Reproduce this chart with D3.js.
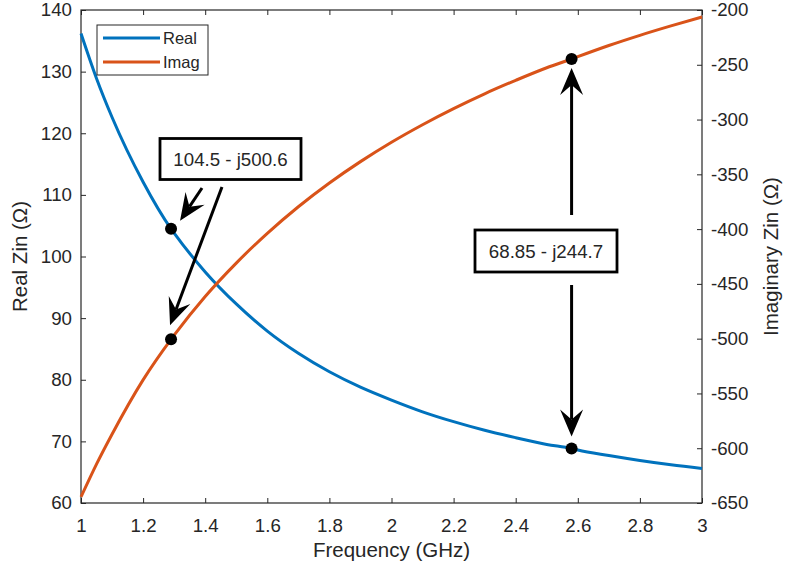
<!DOCTYPE html>
<html>
<head>
<meta charset="utf-8">
<script src="https://cdn.jsdelivr.net/npm/d3@7"></script>
<style>
  html, body { margin: 0; padding: 0; background: #fff; }
  svg { display: block; font-family: "Liberation Sans", Arial, Helvetica, sans-serif; }
</style>
</head>
<body>
<svg id="chart" width="785" height="572"></svg>
<script>
// Input impedance of the antenna versus frequency
const freqGHz = [1.0, 1.05, 1.1, 1.2, 1.29, 1.3, 1.4, 1.5, 1.6, 1.7, 1.8, 1.9, 2.0,
                 2.1, 2.2, 2.3, 2.4, 2.5, 2.58, 2.6, 2.7, 2.8, 2.9, 3.0];
const realZin = [136.2, 128.9, 122.6, 112.1, 104.5, 103.8, 97.5, 92.3, 87.9, 84.3, 81.3, 78.8, 76.7,
                 74.8, 73.2, 71.8, 70.6, 69.5, 68.85, 68.6, 67.7, 66.9, 66.2, 65.6];
const imagZin = [-644.5, -614.5, -587.2, -537.6, -500.6, -496.8, -461.5, -431.0, -403.9, -379.6, -357.9, -338.4, -320.7,
                 -304.7, -290.0, -276.5, -264.2, -252.7, -244.7, -242.6, -232.4, -223.1, -214.5, -206.4];

const xTicks = [1, 1.2, 1.4, 1.6, 1.8, 2, 2.2, 2.4, 2.6, 2.8, 3];
const leftTicks = [60, 70, 80, 90, 100, 110, 120, 130, 140];
const rightTicks = [-650, -600, -550, -500, -450, -400, -350, -300, -250, -200];

// Marked points (frequency, real, imaginary)
const markFreq = [1.29, 2.58];
const markReal = [104.5, 68.85];
const markImag = [-500.6, -244.7];

const seriesNames = ["Real", "Imag"];
const seriesColors = ["#0072BD", "#D95319"];

const svg = d3.select("#chart");
const plotLeft = 81, plotRight = 702, plotTop = 10, plotBottom = 503;
const ink = "#262626";
const tickFont = 18.7, labelFont = 20.5;
const plain = d => String(d);   // hyphen-minus for negative labels

const x = d3.scaleLinear().domain([1, 3]).range([plotLeft, plotRight]);
const yL = d3.scaleLinear().domain([60, 140]).range([plotBottom, plotTop]);
const yR = d3.scaleLinear().domain([-650, -200]).range([plotBottom, plotTop]);

// Axes (ticks point into the plot)
function styleAxis(g) {
  g.select(".domain").remove();
  g.selectAll(".tick line").attr("stroke", ink).attr("stroke-width", 1);
  g.selectAll(".tick text").attr("fill", ink).style("font-size", tickFont + "px")
    .style("font-family", '"Liberation Sans", Arial, Helvetica, sans-serif');
}

svg.append("g").attr("transform", `translate(0,${plotBottom})`)
  .call(d3.axisBottom(x).tickValues(xTicks).tickFormat(plain).tickSizeInner(-5).tickSizeOuter(0).tickPadding(16))
  .call(styleAxis);
svg.append("g").attr("transform", `translate(0,${plotTop})`)
  .call(d3.axisTop(x).tickValues(xTicks).tickFormat("").tickSizeInner(-5).tickSizeOuter(0))
  .call(styleAxis);
svg.append("g").attr("transform", `translate(${plotLeft},0)`)
  .call(d3.axisLeft(yL).tickValues(leftTicks).tickFormat(plain).tickSizeInner(-5).tickSizeOuter(0).tickPadding(9))
  .call(styleAxis);
svg.append("g").attr("transform", `translate(${plotRight},0)`)
  .call(d3.axisRight(yR).tickValues(rightTicks).tickFormat(plain).tickSizeInner(-5).tickSizeOuter(0).tickPadding(9))
  .call(styleAxis);

// Plot box
svg.append("rect").attr("x", plotLeft).attr("y", plotTop)
  .attr("width", plotRight - plotLeft).attr("height", plotBottom - plotTop)
  .attr("fill", "none").attr("stroke", ink).attr("stroke-width", 1.2);

// Axis labels
svg.append("text").attr("x", (plotLeft + plotRight) / 2).attr("y", 557).attr("text-anchor", "middle")
  .attr("fill", ink).style("font-size", labelFont + "px").text("Frequency (GHz)");
svg.append("text").attr("transform", `translate(27,${(plotTop + plotBottom) / 2}) rotate(-90)`).attr("text-anchor", "middle")
  .attr("fill", ink).style("font-size", labelFont + "px").text("Real Zin (\u03A9)");
svg.append("text").attr("transform", `translate(778,${(plotTop + plotBottom) / 2}) rotate(-90)`).attr("text-anchor", "middle")
  .attr("fill", ink).style("font-size", labelFont + "px").text("Imaginary Zin (\u03A9)");

// Curves
const plot = svg.append("g");
const realLine = d3.line().x((d, i) => x(freqGHz[i])).y(d => yL(d)).curve(d3.curveMonotoneX);
const imagLine = d3.line().x((d, i) => x(freqGHz[i])).y(d => yR(d)).curve(d3.curveMonotoneX);
plot.append("path").attr("d", realLine(realZin)).attr("fill", "none")
  .attr("stroke", seriesColors[0]).attr("stroke-width", 3).attr("stroke-linejoin", "round");
plot.append("path").attr("d", imagLine(imagZin)).attr("fill", "none")
  .attr("stroke", seriesColors[1]).attr("stroke-width", 3).attr("stroke-linejoin", "round");

// Markers
markFreq.forEach((f, i) => {
  plot.append("circle").attr("cx", x(f)).attr("cy", yL(markReal[i])).attr("r", 6).attr("fill", "#000");
  plot.append("circle").attr("cx", x(f)).attr("cy", yR(markImag[i])).attr("r", 6).attr("fill", "#000");
});

// Arrow with a notched head
function arrow(x1, y1, x2, y2) {
  const dx = x2 - x1, dy = y2 - y1, len = Math.hypot(dx, dy);
  const ux = dx / len, uy = dy / len, px = -uy, py = ux;
  const L = 27, Wd = 11.5, notch = 17;
  const bx = x2 - ux * L, by = y2 - uy * L;
  const nx = x2 - ux * notch, ny = y2 - uy * notch;
  svg.append("line").attr("x1", x1).attr("y1", y1).attr("x2", nx).attr("y2", ny)
    .attr("stroke", "#000").attr("stroke-width", 3);
  svg.append("path")
    .attr("d", `M${x2},${y2} L${bx + px * Wd},${by + py * Wd} L${nx},${ny} L${bx - px * Wd},${by - py * Wd} Z`)
    .attr("fill", "#000");
}

function textBox(cx, cy, w, h, label) {
  svg.append("rect").attr("x", cx - w / 2).attr("y", cy - h / 2).attr("width", w).attr("height", h)
    .attr("fill", "#fff").attr("stroke", "#000").attr("stroke-width", 2.8);
  svg.append("text").attr("x", cx).attr("y", cy).attr("dy", "0.35em").attr("text-anchor", "middle")
    .attr("fill", ink).style("font-size", tickFont + "px").text(label);
}

const label = i => `${markReal[i]} - j${-markImag[i]}`;

// Annotation for the first marked frequency
{
  const mx = x(markFreq[0]), myR = yL(markReal[0]), myI = yR(markImag[0]);
  textBox(230.5, 159, 141, 41, label(0));
  arrow(202, 188, mx + 9, myR - 8);
  arrow(222, 187, mx - 1, myI - 14);
}
// Annotation for the second marked frequency
{
  const mx = x(markFreq[1]), myR = yL(markReal[1]), myI = yR(markImag[1]);
  textBox(546, 251, 142, 42, label(1));
  arrow(mx, 215, mx, myI + 9);
  arrow(mx, 285, mx, myR - 12);
}

// Legend
const lg = svg.append("g");
lg.append("rect").attr("x", 97).attr("y", 25).attr("width", 111).attr("height", 50)
  .attr("fill", "#fff").attr("stroke", ink).attr("stroke-width", 1);
seriesNames.forEach((name, i) => {
  const yy = 38 + i * 24;
  lg.append("line").attr("x1", 103).attr("x2", 160).attr("y1", yy).attr("y2", yy)
    .attr("stroke", seriesColors[i]).attr("stroke-width", 3);
  lg.append("text").attr("x", 163).attr("y", yy).attr("dy", "0.35em").attr("fill", ink)
    .style("font-size", "16.5px").text(name);
});
</script>
</body>
</html>
